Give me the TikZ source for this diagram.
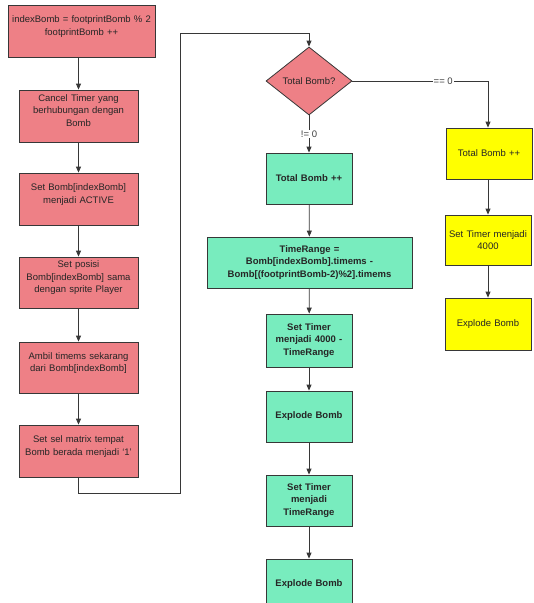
\documentclass[tikz,border=0pt]{standalone}
\usepackage{fontspec}
\setmainfont{Liberation Sans}
\usetikzlibrary{arrows.meta,shapes.geometric}
\definecolor{redfill}{RGB}{238,128,134}
\definecolor{greenfill}{RGB}{120,236,190}
\definecolor{yellowfill}{RGB}{255,255,0}
\definecolor{edgecol}{RGB}{55,55,55}
\tikzset{
  x=1pt, y=-1pt,
  box/.style={draw=edgecol, line width=0.8pt, align=center, inner sep=1pt,
    font=\fontsize{9.5}{12.5}\selectfont, text=black!85},
  redbox/.style={box, fill=redfill, minimum width=119pt, minimum height=52pt, text width=115pt,
    execute at end node={\rule[-11pt]{0pt}{0pt}}},
  greenbox/.style={box, fill=greenfill, minimum width=86pt, minimum height=51pt, text width=82pt, font=\fontsize{9.5}{12.5}\selectfont\bfseries},
  yellowbox/.style={box, fill=yellowfill, minimum width=86pt, minimum height=51pt, text width=84pt},
  decision/.style={diamond, draw=edgecol, line width=0.8pt, fill=redfill, aspect=1.26,
    minimum width=86pt, minimum height=68pt, inner sep=0pt, font=\fontsize{9.5}{12.5}\selectfont, text=black!85},
  conn/.style={draw=edgecol, line width=0.8pt, -{Triangle[length=6pt,width=5pt]}},
  lbl/.style={fill=white, inner sep=1pt, font=\fontsize{9.5}{12.5}\selectfont, text=black!75}
}
\begin{document}
\begin{tikzpicture}
\useasboundingbox (0,0) rectangle (534,603);
% left column
\node[redbox, minimum width=147pt, text width=143pt] (r1) at (81.5,31) {indexBomb = footprintBomb \% 2\\footprintBomb ++};
\node[redbox] (r2) at (78.5,116) {Cancel Timer yang\\berhubungan dengan\\Bomb};
\node[redbox] (r3) at (78.5,199) {Set Bomb[indexBomb]\\menjadi ACTIVE};
\node[redbox, minimum height=51pt] (r4) at (78.5,282.5) {Set posisi\\Bomb[indexBomb] sama\\dengan sprite Player};
\node[redbox, minimum height=51pt] (r5) at (78.5,367.5) {Ambil timems sekarang\\dari Bomb[indexBomb]};
\node[redbox] (r6) at (78.5,451) {Set sel matrix tempat\\Bomb berada menjadi `1'};
% decision
\node[decision] (d) at (309,81) {Total Bomb?};
% green column
\node[greenbox] (g1) at (309,178.5) {Total Bomb ++};
\node[greenbox, minimum width=205pt, text width=201pt] (g2) at (309.5,262.5) {TimeRange =\\Bomb[indexBomb].timems -\\Bomb[(footprintBomb-2)\%2].timems};
\node[greenbox, minimum height=53pt] (g3) at (309,340.5) {Set Timer\\menjadi 4000 -\\TimeRange};
\node[greenbox] (g4) at (309,416.5) {Explode Bomb};
\node[greenbox] (g5) at (309,500.5) {Set Timer\\menjadi\\TimeRange};
\node[greenbox] (g6) at (309,584.5) {Explode Bomb};
% yellow column
\node[yellowbox] (y1) at (489,153.5) {Total Bomb ++};
\node[yellowbox, minimum height=50pt] (y2) at (488,240) {Set Timer menjadi\\4000};
\node[yellowbox, minimum height=52pt] (y3) at (488,324) {Explode Bomb};
% connectors left
\draw[conn] (r2.north |- r1.south) -- (r2.north);
\draw[conn] (r2) -- (r3);
\draw[conn] (r3) -- (r4);
\draw[conn] (r4) -- (r5);
\draw[conn] (r5) -- (r6);
% loop to decision
\coordinate (c1) at (78.5,493);
\coordinate (c2) at (180,493);
\coordinate (c3) at (180,33);
\draw[conn] (r6.south) -- (c1) -- (c2) -- (c3) -- (d.north |- c3) -- (d.north);
% decision branches
\draw[conn] (d.south) -- node[lbl, pos=0.5] {!= 0} (g1.north);
\coordinate (c4) at (488,81);
\draw[conn] (d.east) -- node[lbl, pos=0.67] {== 0} (c4) -- (y1.north -| c4);
% green chain
\draw[conn] (g1) -- (g2);
\draw[conn] (g2) -- (g3);
\draw[conn] (g3) -- (g4);
\draw[conn] (g4) -- (g5);
\draw[conn] (g5) -- (g6);
% yellow chain
\draw[conn] (y1.south -| y2) -- (y2);
\draw[conn] (y2) -- (y3);
\end{tikzpicture}
\end{document}
